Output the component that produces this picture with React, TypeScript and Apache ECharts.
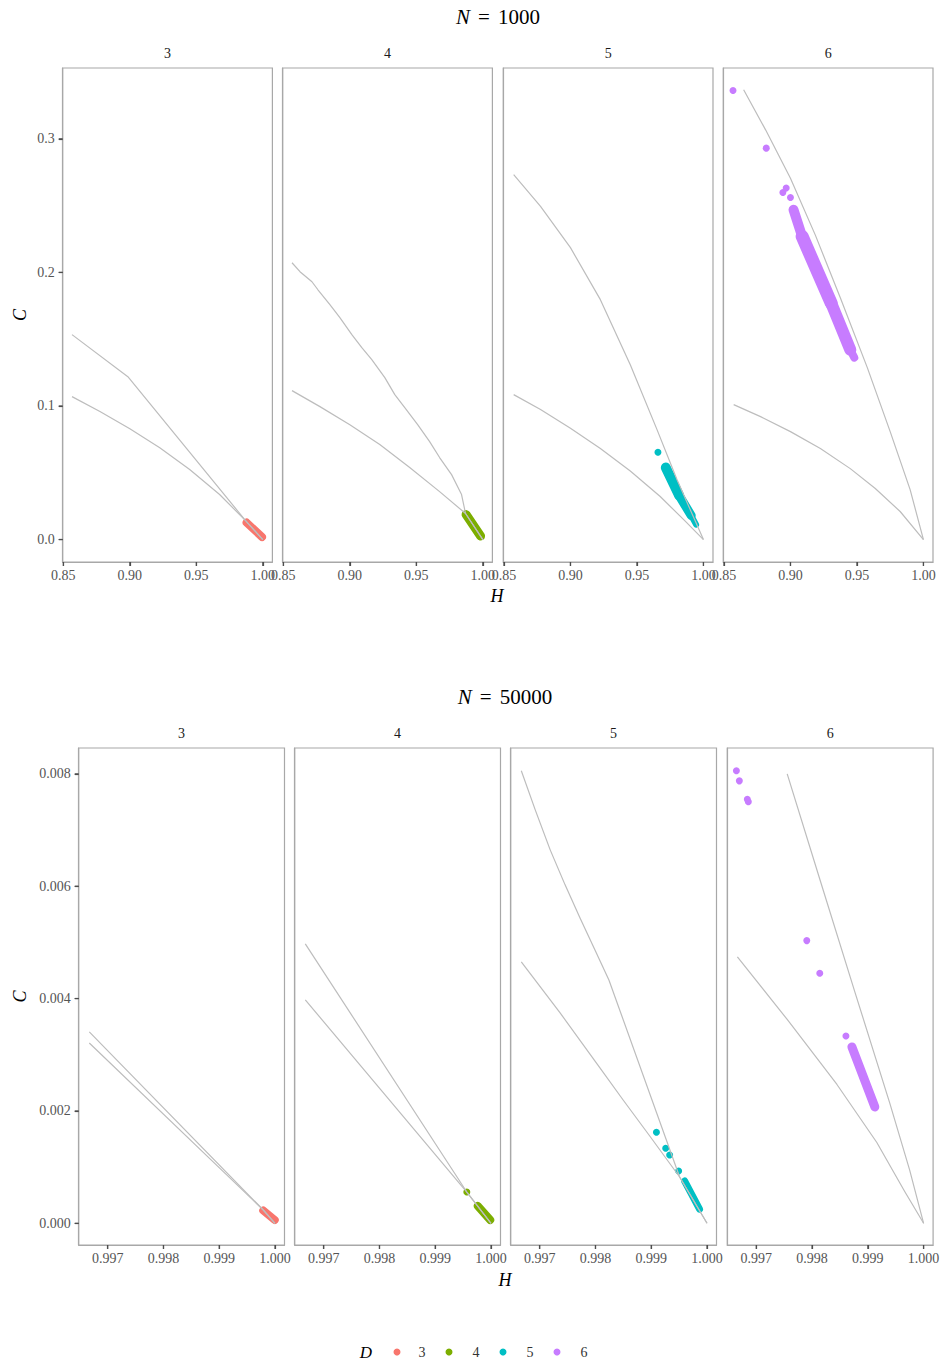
import React, { useEffect, useRef } from 'react';
import * as echarts from 'echarts';

const FONT = "'Liberation Serif', 'DejaVu Serif', 'Times New Roman', serif";

const dims = ['3', '4', '5', '6'];
const colors = ['#F8766D', '#7CAE00', '#00BFC4', '#C77CFF'];

// ---------- N = 1000 ----------
const topXTicks = [0.85, 0.9, 0.95, 1.0];
const topYTicks = [0.0, 0.1, 0.2, 0.3];

const top_upper_D3 = [[0.8565, 0.1534], [0.8985, 0.1219], [0.987, 0.0142], [1.0, 0.0]];
const top_lower_D3 = [[0.8565, 0.107], [0.8775, 0.0958], [0.9, 0.083], [0.9225, 0.0688], [0.945, 0.0524], [0.9675, 0.0337], [0.987, 0.0142], [1.0, 0.0]];
const top_body_D3 = [[0.9878, 0.0127], [0.9994, 0.0019]];
const top_points_D3 = [[0.9878, 0.0127], [0.9994, 0.0019]];

const top_upper_D4 = [[0.8565, 0.2072], [0.8625, 0.2005], [0.8715, 0.193], [0.876, 0.187], [0.885, 0.1758], [0.8925, 0.1661], [0.9015, 0.1534], [0.909, 0.1436], [0.9165, 0.1347], [0.9263, 0.1212], [0.9338, 0.1085], [0.9413, 0.0988], [0.951, 0.086], [0.96, 0.0733], [0.9675, 0.0614], [0.9765, 0.0486], [0.984, 0.0337], [0.987, 0.0195], [1.0, 0.0]];
const top_lower_D4 = [[0.8565, 0.1115], [0.8775, 0.0995], [0.9, 0.086], [0.9225, 0.0711], [0.945, 0.0539], [0.9675, 0.0359], [0.987, 0.0195], [1.0, 0.0]];
const top_body_D4 = [[0.9874, 0.0187], [0.9983, 0.0026]];
const top_points_D4 = [[0.9874, 0.0187], [0.9983, 0.0026]];

const top_upper_D5 = [[0.8573, 0.2731], [0.8775, 0.2494], [0.9, 0.2185], [0.9225, 0.1796], [0.945, 0.1309], [0.9651, 0.0823], [0.9801, 0.0449], [1.0, 0.0]];
const top_lower_D5 = [[0.8573, 0.1085], [0.8775, 0.0973], [0.9, 0.0833], [0.9225, 0.0681], [0.945, 0.0513], [0.9675, 0.0322], [0.9863, 0.0138], [1.0, 0.0]];
const top_body_D5 = [[0.9717, 0.0539], [0.9818, 0.0329], [0.9908, 0.018], [0.9945, 0.0112]];
const top_points_D5 = [[0.9658, 0.0653]];

const top_upper_D6 = [[0.8648, 0.3367], [0.8813, 0.3067], [0.9, 0.2704], [0.9188, 0.2277], [0.9375, 0.181], [0.9578, 0.1287], [0.975, 0.0808], [0.99, 0.0374], [1.0, 0.0]];
const top_lower_D6 = [[0.8573, 0.101], [0.8775, 0.092], [0.9, 0.0808], [0.9225, 0.0681], [0.945, 0.0531], [0.9638, 0.0382], [0.9825, 0.021], [1.0, 0.0]];
const top_body_D6 = [[0.9023, 0.2469], [0.9088, 0.2269], [0.9306, 0.1771], [0.945, 0.1421], [0.948, 0.1362]];
const top_points_D6 = [[0.8568, 0.3361], [0.8818, 0.293], [0.8943, 0.2598], [0.8968, 0.2631], [0.9, 0.2561]];

// ---------- N = 50000 ----------
const botXTicks = [0.997, 0.998, 0.999, 1.0];
const botYTicks = [0.0, 0.002, 0.004, 0.006, 0.008];

const bot_upper_D3 = [[0.99667, 0.003406], [0.99979, 0.000237], [1.0, 0.0]];
const bot_lower_D3 = [[0.99667, 0.00321], [0.99979, 0.000237], [1.0, 0.0]];
const bot_body_D3 = [[0.999789, 0.000228], [0.999995, 0.000059]];
const bot_points_D3 = [[0.999789, 0.000228], [0.999995, 0.000059]];

const bot_upper_D4 = [[0.99667, 0.004974], [0.999566, 0.000557], [1.0, 0.0]];
const bot_lower_D4 = [[0.99667, 0.003977], [0.999566, 0.000557], [1.0, 0.0]];
const bot_body_D4 = [[0.999763, 0.000308], [0.999986, 0.000059]];
const bot_points_D4 = [[0.999566, 0.000557]];

const bot_upper_D5 = [[0.99667, 0.008054], [0.99692, 0.007359], [0.997188, 0.006647], [0.997455, 0.006024], [0.997723, 0.005436], [0.997991, 0.004866], [0.998241, 0.004332], [0.999509, 0.000824], [1.0, 0.0]];
const bot_lower_D5 = [[0.99667, 0.004653], [0.997366, 0.003745], [0.99808, 0.002765], [0.998496, 0.002195], [0.998973, 0.001554], [0.999509, 0.000824], [1.0, 0.0]];
const bot_body_D5 = [[0.999598, 0.000753], [0.999866, 0.000254]];
const bot_points_D5 = [[0.999093, 0.00162], [0.999259, 0.001335], [0.99933, 0.001216], [0.999491, 0.000931]];

const bot_upper_D6 = [[0.997554, 0.008], [0.998143, 0.00611], [0.998768, 0.004116], [0.999393, 0.002139], [0.99975, 0.000946], [1.0, 0.0]];
const bot_lower_D6 = [[0.996661, 0.004742], [0.997554, 0.003629], [0.998446, 0.002471], [0.999161, 0.001439], [0.999661, 0.000566], [1.0, 0.0]];
const bot_body_D6 = [[0.998714, 0.003139], [0.999125, 0.002071]];
const bot_points_D6 = [[0.996643, 0.008054], [0.996696, 0.007875], [0.996839, 0.007546], [0.996857, 0.007502], [0.997905, 0.005032], [0.998138, 0.004451], [0.998607, 0.003335]];

type Panel = {
  row: number;
  col: number;
  upper: number[][];
  lower: number[][];
  body: number[][];
  widths: number[];
  points: number[][];
};

const panels: Panel[] = [
  { row: 0, col: 0, upper: top_upper_D3, lower: top_lower_D3, body: top_body_D3, widths: [8], points: top_points_D3 },
  { row: 0, col: 1, upper: top_upper_D4, lower: top_lower_D4, body: top_body_D4, widths: [9], points: top_points_D4 },
  { row: 0, col: 2, upper: top_upper_D5, lower: top_lower_D5, body: top_body_D5, widths: [10, 9, 6], points: top_points_D5 },
  { row: 0, col: 3, upper: top_upper_D6, lower: top_lower_D6, body: top_body_D6, widths: [10, 13, 12, 8], points: top_points_D6 },
  { row: 1, col: 0, upper: bot_upper_D3, lower: bot_lower_D3, body: bot_body_D3, widths: [8], points: bot_points_D3 },
  { row: 1, col: 1, upper: bot_upper_D4, lower: bot_lower_D4, body: bot_body_D4, widths: [8], points: bot_points_D4 },
  { row: 1, col: 2, upper: bot_upper_D5, lower: bot_lower_D5, body: bot_body_D5, widths: [7], points: bot_points_D5 },
  { row: 1, col: 3, upper: bot_upper_D6, lower: bot_lower_D6, body: bot_body_D6, widths: [9], points: bot_points_D6 },
];

const rowLayout = [
  { lefts: [62.7, 282.7, 503.3, 723.3], width: 209.7, top: 68, height: 494, xMin: 0.8495, xMax: 1.0072, yMin: -0.0168, yMax: 0.353, xTicks: topXTicks, yTicks: topYTicks, xDec: 2, yDec: 1, title: '1000', titleX: 498, titleY: 17, stripY: 53, hX: 497, hY: 596 },
  { lefts: [78.7, 294.7, 510.7, 727.3], width: 205.8, top: 748, height: 497, xMin: 0.99648, xMax: 1.00017, yMin: -0.000386, yMax: 0.00846, xTicks: botXTicks, yTicks: botYTicks, xDec: 3, yDec: 3, title: '50000', titleX: 505, titleY: 697, stripY: 733, hX: 505, hY: 1280 },
];

const legendLayout = { titleX: 366, y: 1352, dotX: [397, 449, 503, 557], labelX: [422, 476, 530, 584] };

const BORDER = '#A8A8A8';
const TICK = '#4D4D4D';
const TICK_LEN = 4;

function buildOption() {
  const grid: any[] = [];
  const xAxis: any[] = [];
  const yAxis: any[] = [];
  const series: any[] = [];
  const graphic: any[] = [];

  panels.forEach((p, i) => {
    const L = rowLayout[p.row];
    const color = colors[p.col];
    grid.push({
      left: L.lefts[p.col],
      top: L.top,
      width: L.width,
      height: L.height,
      show: true,
      borderColor: BORDER,
      borderWidth: 1.2,
      backgroundColor: 'transparent',
      containLabel: false,
    });
    xAxis.push({
      type: 'value',
      gridIndex: i,
      position: 'bottom',
      min: L.xMin,
      max: L.xMax,
      axisLine: { show: true, onZero: false, lineStyle: { color: BORDER, width: 1.2 } },
      splitLine: { show: false },
      axisTick: { show: true, inside: false, length: TICK_LEN, lineStyle: { color: TICK, width: 1.2 }, customValues: L.xTicks },
      axisLabel: {
        customValues: L.xTicks,
        formatter: (v: number) => v.toFixed(L.xDec),
        fontFamily: FONT,
        fontSize: 14,
        color: '#555',
        margin: 6,
      },
    });
    const first = p.col === 0;
    yAxis.push({
      type: 'value',
      gridIndex: i,
      position: 'left',
      min: L.yMin,
      max: L.yMax,
      axisLine: { show: true, onZero: false, lineStyle: { color: BORDER, width: 1.2 } },
      splitLine: { show: false },
      axisTick: { show: first, inside: false, length: TICK_LEN, lineStyle: { color: TICK, width: 1.2 }, customValues: L.yTicks },
      axisLabel: {
        show: first,
        customValues: L.yTicks,
        formatter: (v: number) => v.toFixed(L.yDec),
        fontFamily: FONT,
        fontSize: 14,
        color: '#555',
        margin: 8,
      },
    });

    // dense cloud body, drawn as thick round-capped segments
    for (let s = 0; s < p.body.length - 1; s++) {
      series.push({
        type: 'line',
        xAxisIndex: i,
        yAxisIndex: i,
        data: [p.body[s], p.body[s + 1]],
        showSymbol: false,
        symbol: 'none',
        silent: true,
        z: 2,
        lineStyle: { color, width: p.widths[s], cap: 'round', join: 'round', opacity: 1 },
      });
    }
    // individual points
    series.push({
      type: 'scatter',
      name: dims[p.col],
      xAxisIndex: i,
      yAxisIndex: i,
      data: p.points,
      symbol: 'circle',
      symbolSize: 7,
      silent: true,
      z: 3,
      itemStyle: { color, opacity: 1 },
    });
    // bounding curves
    [p.upper, p.lower].forEach((curve) => {
      series.push({
        type: 'line',
        xAxisIndex: i,
        yAxisIndex: i,
        data: curve,
        showSymbol: false,
        symbol: 'none',
        silent: true,
        z: 5,
        lineStyle: { color: '#BDBDBD', width: 1.2, join: 'round' },
      });
    });

    // strip label
    graphic.push({
      type: 'text',
      x: L.lefts[p.col] + L.width / 2,
      y: L.stripY,
      style: { text: dims[p.col], fontFamily: FONT, fontSize: 14, fill: '#1A1A1A', align: 'center', verticalAlign: 'middle' },
    });
  });

  rowLayout.forEach((L) => {
    graphic.push({
      type: 'text',
      x: L.titleX,
      y: L.titleY,
      style: {
        text: `{i|N}{e|=}${L.title}`,
        fontFamily: FONT,
        fontSize: 21,
        fill: '#000',
        align: 'center',
        verticalAlign: 'middle',
        rich: {
          i: { fontFamily: FONT, fontSize: 21, fontStyle: 'italic', fill: '#000' },
          e: { fontFamily: FONT, fontSize: 21, fill: '#000', padding: [0, 8, 0, 8] },
        },
      },
    });
    graphic.push({
      type: 'text',
      x: L.hX,
      y: L.hY,
      style: { text: 'H', fontFamily: FONT, fontSize: 18, fontStyle: 'italic', fill: '#000', align: 'center', verticalAlign: 'middle' },
    });
    graphic.push({
      type: 'text',
      x: 20,
      y: L.top + L.height / 2,
      rotation: Math.PI / 2,
      style: { text: 'C', fontFamily: FONT, fontSize: 18, fontStyle: 'italic', fill: '#000', align: 'center', verticalAlign: 'middle' },
    });
  });

  // legend (D)
  graphic.push({
    type: 'text',
    x: legendLayout.titleX,
    y: legendLayout.y,
    style: { text: 'D', fontFamily: FONT, fontSize: 17, fontStyle: 'italic', fill: '#000', align: 'center', verticalAlign: 'middle' },
  });
  dims.forEach((d, k) => {
    graphic.push({
      type: 'circle',
      shape: { cx: legendLayout.dotX[k], cy: legendLayout.y, r: 3.5 },
      style: { fill: colors[k] },
    });
    graphic.push({
      type: 'text',
      x: legendLayout.labelX[k],
      y: legendLayout.y,
      style: { text: d, fontFamily: FONT, fontSize: 14, fill: '#333', align: 'center', verticalAlign: 'middle' },
    });
  });

  return {
    animation: false,
    backgroundColor: '#fff',
    grid,
    xAxis,
    yAxis,
    series,
    graphic,
  };
}

// tick marks placed through the chart's own axis scales
function buildTickGraphics(chart: echarts.ECharts) {
  const out: any[] = [];
  panels.forEach((p, i) => {
    const L = rowLayout[p.row];
    const bottom = L.top + L.height;
    const left = L.lefts[p.col];
    L.xTicks.forEach((v) => {
      const px = chart.convertToPixel({ xAxisIndex: i } as any, v) as unknown as number;
      if (typeof px === 'number' && isFinite(px)) {
        out.push({
          type: 'line',
          silent: true,
          z: 10,
          shape: { x1: px, y1: bottom, x2: px, y2: bottom + TICK_LEN },
          style: { stroke: TICK, lineWidth: 1.2 },
        });
      }
    });
    if (p.col === 0) {
      L.yTicks.forEach((v) => {
        const py = chart.convertToPixel({ yAxisIndex: i } as any, v) as unknown as number;
        if (typeof py === 'number' && isFinite(py)) {
          out.push({
            type: 'line',
            silent: true,
            z: 10,
            shape: { x1: left - TICK_LEN, y1: py, x2: left, y2: py },
            style: { stroke: TICK, lineWidth: 1.2 },
          });
        }
      });
    }
  });
  return out;
}

export default function App() {
  const ref = useRef<HTMLDivElement>(null);
  useEffect(() => {
    if (!ref.current) return;
    const chart = echarts.init(ref.current, undefined, { renderer: 'svg' });
    const option: any = buildOption();
    chart.setOption(option);
    const ticks = buildTickGraphics(chart);
    chart.setOption({ graphic: [...option.graphic, ...ticks] } as any);
    return () => chart.dispose();
  }, []);
  return (
    <div
      ref={ref}
      style={{ position: 'absolute', left: 0, top: 0, width: 943, height: 1364, background: '#fff' }}
    />
  );
}
